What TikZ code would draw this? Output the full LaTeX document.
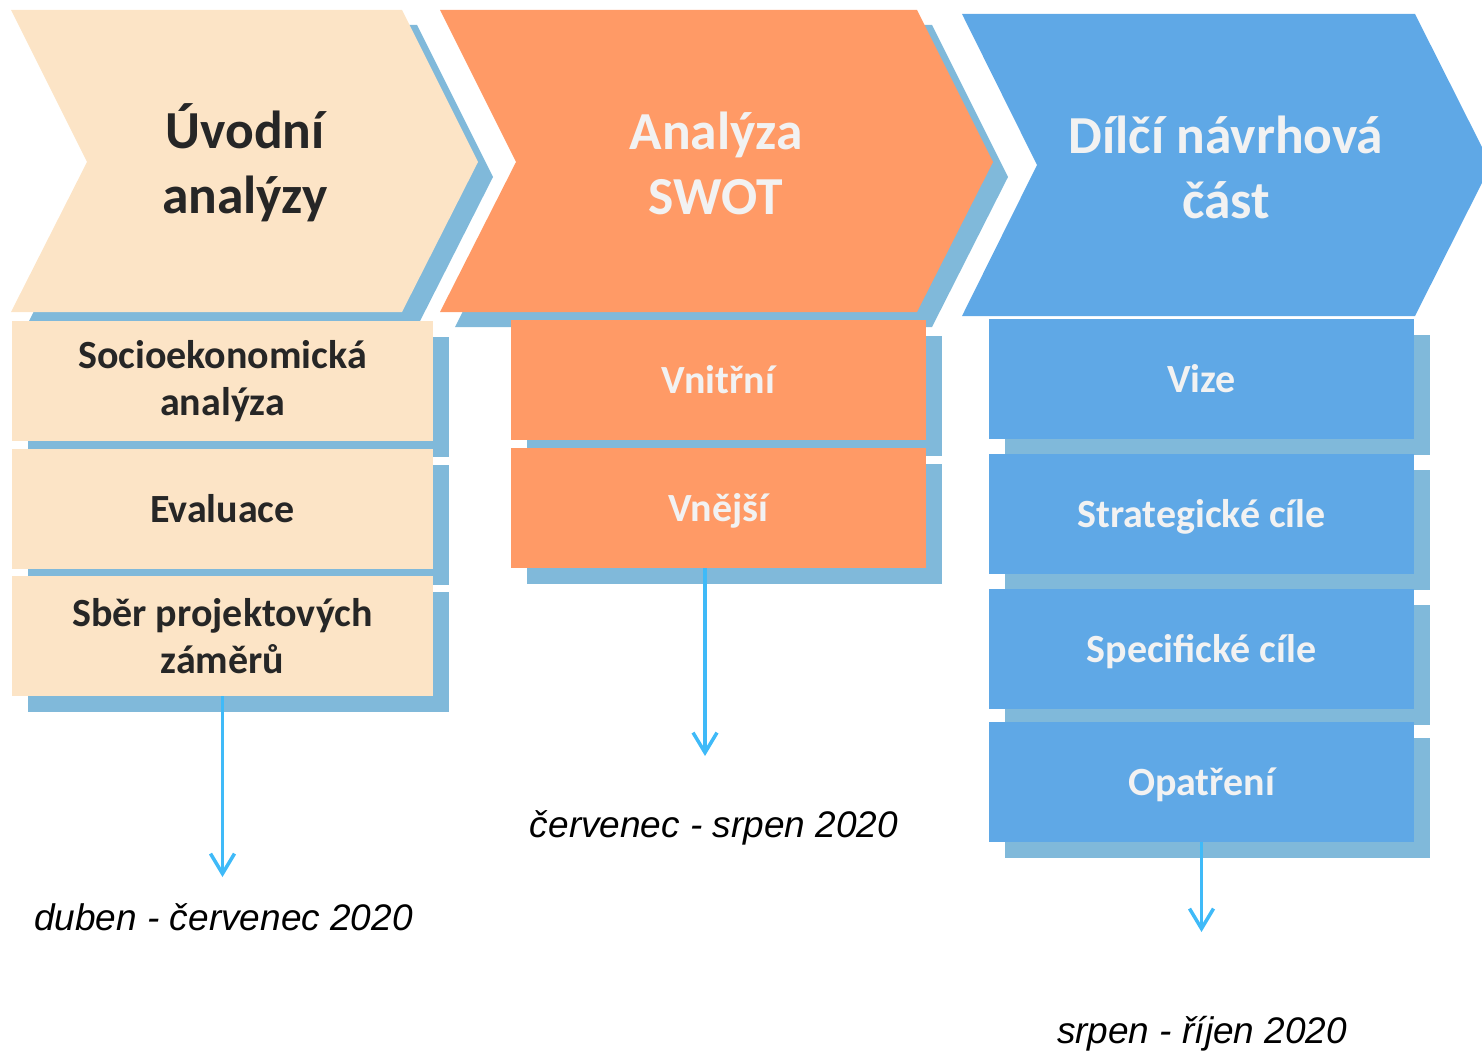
\documentclass[tikz,border=0pt]{standalone}
\usepackage{fontspec}
\setmainfont{Carlito}
\newfontfamily\datefont{Liberation Sans}
\usepackage{xcolor}
\usepackage{tikz}
\usetikzlibrary{arrows.meta,positioning,shadows}

\definecolor{beige}{HTML}{FCE4C6}
\definecolor{orangefill}{HTML}{FF9A66}
\definecolor{bluefill}{HTML}{5FA8E6}
\definecolor{shadowblue}{HTML}{80B9DA}
\definecolor{arrowblue}{HTML}{3FBAF8}
\definecolor{darktext}{HTML}{262626}
\definecolor{lighttext}{HTML}{F2F2F2}

\begin{document}
\begin{tikzpicture}[x=1pt,y=-1pt,
  plate/.style={drop shadow={shadow xshift=15pt,shadow yshift=-15pt,fill=shadowblue,opacity=1}},
  headtext/.style={align=center,font=\fontsize{53.5}{65}\selectfont\bfseries},
  card/.style={drop shadow={shadow xshift=16pt,shadow yshift=-16pt,fill=shadowblue,opacity=1},
    minimum height=120pt,inner sep=0pt,outer sep=0pt,align=center,
    font=\fontsize{40}{47}\selectfont\bfseries},
  oneline/.style={text height=30pt,text depth=3pt},
  datelabel/.style={anchor=base,text=black,font=\datefont\itshape\fontsize{37}{44}\selectfont},
  timeline/.style={draw=arrowblue,line width=3.5pt,-{Straight Barb[length=20pt,width=24pt]}}]
\useasboundingbox (0,0) rectangle (1482,1051);

% Phase chevrons
\fill[beige,plate] (11,10) -- (402,10) -- (478,162) -- (402,312) -- (11,312) -- (87,162) -- cycle;
\fill[orangefill,plate] (440,10) -- (917,10) -- (993,162) -- (917,312) -- (440,312) -- (516,162) -- cycle;
\fill[bluefill] (962,14) -- (1415,14) -- (1491,165) -- (1415,316) -- (962,316) -- (1037,165) -- cycle;

\node[headtext,text=darktext] (uvod) at (245,163) {Úvodní\\analýzy};
\node[headtext,text=lighttext] (swot) at (716,163) {Analýza\\SWOT};
\node[headtext,text=lighttext] (navrh) at (1226,167) {Dílčí návrhová\\část};

% First column
\node[card,fill=beige,text=darktext,minimum width=421pt,anchor=north west] (socio) at (12,321) {Socioekonomická\\analýza};
\node[card,oneline,fill=beige,text=darktext,minimum width=421pt,below=8pt of socio] (eval) {Evaluace};
\node[card,fill=beige,text=darktext,minimum width=421pt,below=7pt of eval] (sber) {Sběr projektových\\záměrů};

% Second column
\node[card,oneline,fill=orangefill,text=lighttext,minimum width=415pt,anchor=north west] (vnitrni) at (511,320) {Vnitřní};
\node[card,oneline,fill=orangefill,text=lighttext,minimum width=415pt,below=8pt of vnitrni] (vnejsi) {Vnější};

% Third column
\node[card,oneline,fill=bluefill,text=lighttext,minimum width=425pt,anchor=north west] (vize) at (989,319) {Vize};
\node[card,oneline,fill=bluefill,text=lighttext,minimum width=425pt,below=15pt of vize] (strat) {Strategické cíle};
\node[card,oneline,fill=bluefill,text=lighttext,minimum width=425pt,below=15pt of strat] (spec) {Specifické cíle};
\node[card,oneline,fill=bluefill,text=lighttext,minimum width=425pt,below=13pt of spec] (opatreni) {Opatření};

% Time arrows
\coordinate (endA) at ([yshift=-181pt]sber.south);
\coordinate (endB) at (705,756);
\coordinate (endC) at ([yshift=-90pt]opatreni.south);
\draw[timeline] (sber.south) -- (endA);
\draw[timeline] (vnejsi.south -| endB) -- (endB);
\draw[timeline] (opatreni.south) -- (endC);

% Dates
\node[datelabel] (dateA) at (223.5,930) {duben - červenec 2020};
\node[datelabel] (dateB) at (714,837) {červenec - srpen 2020};
\node[datelabel] (dateC) at (1202,1043) {srpen - říjen 2020};
\end{tikzpicture}
\end{document}
